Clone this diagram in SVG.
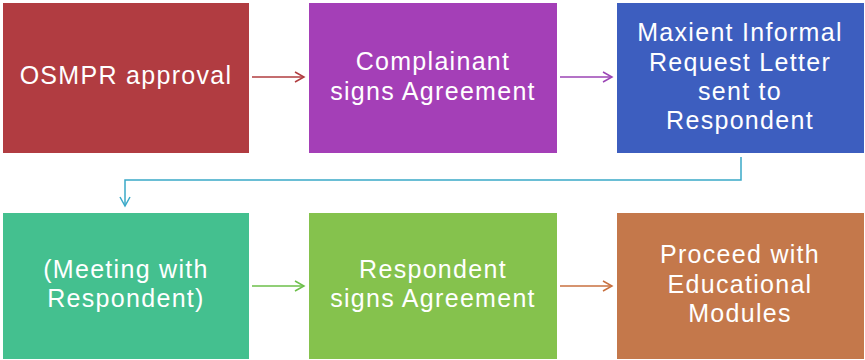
<svg xmlns="http://www.w3.org/2000/svg" width="865" height="360" viewBox="0 0 865 360">
<style>
.t{font-family:"Liberation Sans",Arial,sans-serif;font-size:25px;fill:#fff;text-anchor:middle;letter-spacing:1.3px}
.c{fill:none;stroke-width:1.5}
</style>
<defs>
<marker id="mr" markerWidth="12" markerHeight="12" refX="10" refY="6" orient="auto" markerUnits="userSpaceOnUse"><path d="M1,1 L10,6 L1,11" fill="none" stroke="#b03c3f" stroke-width="1.5"/></marker>
<marker id="mp" markerWidth="12" markerHeight="12" refX="10" refY="6" orient="auto" markerUnits="userSpaceOnUse"><path d="M1,1 L10,6 L1,11" fill="none" stroke="#9b45b5" stroke-width="1.5"/></marker>
<marker id="mb" markerWidth="12" markerHeight="12" refX="10" refY="6" orient="auto" markerUnits="userSpaceOnUse"><path d="M1,1 L10,6 L1,11" fill="none" stroke="#3aa9c8" stroke-width="1.5"/></marker>
<marker id="mg" markerWidth="12" markerHeight="12" refX="10" refY="6" orient="auto" markerUnits="userSpaceOnUse"><path d="M1,1 L10,6 L1,11" fill="none" stroke="#6dbf4a" stroke-width="1.5"/></marker>
<marker id="mo" markerWidth="12" markerHeight="12" refX="10" refY="6" orient="auto" markerUnits="userSpaceOnUse"><path d="M1,1 L10,6 L1,11" fill="none" stroke="#c8703f" stroke-width="1.5"/></marker>
</defs>
<rect width="865" height="360" fill="#fff"/>
<g id="n1"><rect x="3" y="3" width="246" height="150" fill="#b13c41"/><text class="t" x="126" y="84">OSMPR approval</text></g>
<g id="n2"><rect x="309" y="3" width="248" height="150" fill="#a43fb7"/><text class="t" x="433" y="70">Complainant</text><text class="t" x="433" y="100">signs Agreement</text></g>
<g id="n3"><rect x="617" y="3" width="247" height="150" fill="#3d5ebf"/><text class="t" x="740" y="41">Maxient Informal</text><text class="t" x="740" y="71">Request Letter</text><text class="t" x="740" y="100">sent to</text><text class="t" x="740" y="129">Respondent</text></g>
<g id="n4"><rect x="3" y="213" width="246" height="146" fill="#44c08f"/><text class="t" x="126" y="278">(Meeting with</text><text class="t" x="126" y="307">Respondent)</text></g>
<g id="n5"><rect x="309" y="213" width="248" height="146" fill="#85c24d"/><text class="t" x="433" y="278">Respondent</text><text class="t" x="433" y="307">signs Agreement</text></g>
<g id="n6"><rect x="617" y="213" width="247" height="146" fill="#c4784b"/><text class="t" x="740" y="263">Proceed with</text><text class="t" x="740" y="293">Educational</text><text class="t" x="740" y="322">Modules</text></g>
<g id="connectors">
<path class="c" d="M252,77 H304" stroke="#b03c3f" marker-end="url(#mr)"/>
<path class="c" d="M560,77 H612" stroke="#9b45b5" marker-end="url(#mp)"/>
<path class="c" d="M741,157 V180 H125 V206" stroke="#3aa9c8" marker-end="url(#mb)"/>
<path class="c" d="M252,286 H304" stroke="#6dbf4a" marker-end="url(#mg)"/>
<path class="c" d="M560,286 H612" stroke="#c8703f" marker-end="url(#mo)"/>
</g>
</svg>
